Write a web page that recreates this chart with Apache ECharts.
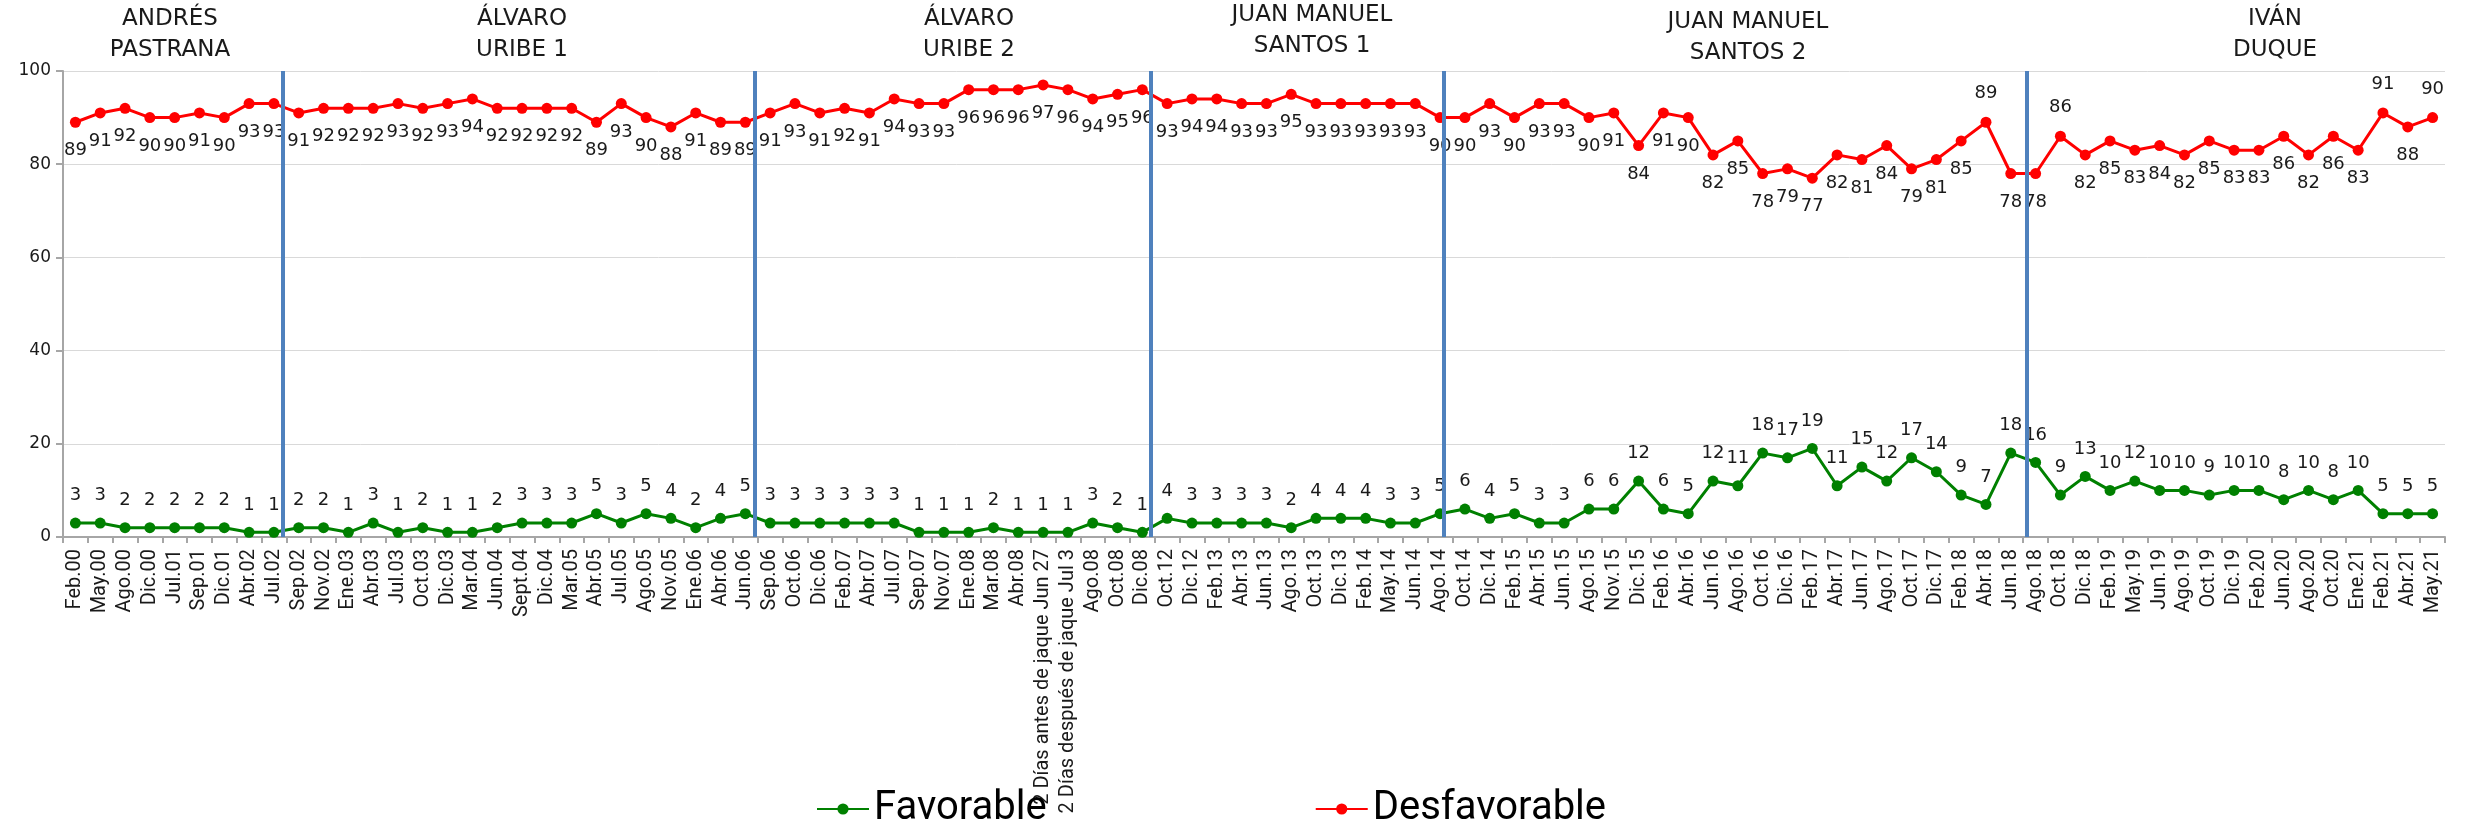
<!DOCTYPE html>
<html><head><meta charset="utf-8">
<script src="https://cdn.jsdelivr.net/npm/echarts@6/dist/echarts.min.js"></script>
<style>html,body{margin:0;padding:0;background:#fff}#c{width:2470px;height:825px}</style>
</head><body><div id="c"></div>
<script>
const categories = [
  'Feb.00','May.00','Ago.00','Dic.00','Jul.01','Sep.01','Dic.01','Abr.02','Jul.02',
  'Sep.02','Nov.02','Ene.03','Abr.03','Jul.03','Oct.03','Dic.03','Mar.04','Jun.04','Sept.04','Dic.04','Mar.05','Abr.05','Jul.05','Ago.05','Nov.05','Ene.06','Abr.06','Jun.06',
  'Sep.06','Oct.06','Dic.06','Feb.07','Abr.07','Jul.07','Sep.07','Nov.07','Ene.08','Mar.08','Abr.08','2 Días antes de jaque Jun 27','2 Días después de jaque Jul 3','Ago.08','Oct.08','Dic.08',
  'Oct.12','Dic.12','Feb.13','Abr.13','Jun.13','Ago.13','Oct.13','Dic.13','Feb.14','May.14','Jun.14','Ago.14',
  'Oct.14','Dic.14','Feb.15','Abr.15','Jun.15','Ago.15','Nov.15','Dic.15','Feb.16','Abr.16','Jun.16','Ago.16','Oct.16','Dic.16','Feb.17','Abr.17','Jun.17','Ago.17','Oct.17','Dic.17','Feb.18','Abr.18','Jun.18',
  'Ago.18','Oct.18','Dic.18','Feb.19','May.19','Jun.19','Ago.19','Oct.19','Dic.19','Feb.20','Jun.20','Ago.20','Oct.20','Ene.21','Feb.21','Abr.21','May.21'
];
const favorable = [
  3,3,2,2,2,2,2,1,1,
  2,2,1,3,1,2,1,1,2,3,3,3,5,3,5,4,2,4,5,
  3,3,3,3,3,3,1,1,1,2,1,1,1,3,2,1,
  4,3,3,3,3,2,4,4,4,3,3,5,
  6,4,5,3,3,6,6,12,6,5,12,11,18,17,19,11,15,12,17,14,9,7,18,
  16,9,13,10,12,10,10,9,10,10,8,10,8,10,5,5,5
];
const desfavorable = [
  89,91,92,90,90,91,90,93,93,
  91,92,92,92,93,92,93,94,92,92,92,92,89,93,90,88,91,89,89,
  91,93,91,92,91,94,93,93,96,96,96,97,96,94,95,96,
  93,94,94,93,93,95,93,93,93,93,93,90,
  90,93,90,93,93,90,91,84,91,90,82,85,78,79,77,82,81,84,79,81,85,89,78,
  78,86,82,85,83,84,82,85,83,83,86,82,86,83,91,88,90
];
const yTicks = { min: 0, max: 100, interval: 20 };
const presidents = ['ANDRÉS\nPASTRANA','ÁLVARO\nURIBE 1','ÁLVARO\nURIBE 2','JUAN MANUEL\nSANTOS 1','JUAN MANUEL\nSANTOS 2','IVÁN\nDUQUE'];
// divider positions, in category units from the left edge of the axis
const dividers = [8.86, 27.87, 43.82, 55.66, 79.15];
const redLabelsAbove = ['Abr.18','Oct.18','Feb.21','May.21'];

// layout only
const titlePos = [[170,4],[522,4],[969,4],[1312,0],[1748,7],[2275,4]];

const chart = echarts.init(document.getElementById('c'));
const labelFont = { fontFamily: 'DejaVu Sans', fontSize: 18, color: '#1a1a1a' };

chart.setOption({
  animation: false,
  backgroundColor: '#fff',
  grid: { left: 63, right: 25, top: 71, bottom: 288 },
  graphic: presidents.map((t, i) => ({
    type: 'text', x: titlePos[i][0], y: titlePos[i][1], silent: true,
    style: { text: t, textAlign: 'center', textVerticalAlign: 'top', fontFamily: 'DejaVu Sans', fontSize: 23, lineHeight: 31, fill: '#1a1a1a' }
  })),
  legend: {
    data: ['Favorable', 'Desfavorable'], left: 811, top: 784,
    itemWidth: 52, itemHeight: 14, itemGap: 268,
    textStyle: { fontFamily: 'Roboto', fontSize: 40, color: '#000' }
  },
  xAxis: [{
    type: 'category', data: categories,
    axisLine: { lineStyle: { color: '#a6a6a6', width: 2 } },
    axisTick: { show: true, interval: 0, length: 6, lineStyle: { color: '#a6a6a6', width: 2 } },
    axisLabel: { interval: 0, rotate: 90, fontFamily: 'Roboto', fontSize: 20, color: '#1a1a1a', margin: 12 }
  }, {
    type: 'value', min: 0, max: categories.length, show: false
  }],
  yAxis: {
    type: 'value', min: yTicks.min, max: yTicks.max, interval: yTicks.interval,
    axisLine: { show: true, lineStyle: { color: '#a6a6a6', width: 2 } },
    axisTick: { show: true, length: 7, lineStyle: { color: '#a6a6a6', width: 2 } },
    splitLine: { lineStyle: { color: '#d9d9d9', width: 1 } },
    axisLabel: { fontFamily: 'DejaVu Sans', fontSize: 17, color: '#1a1a1a', margin: 12 }
  },
  series: [{
    name: 'Favorable', type: 'line', data: favorable, color: '#008000',
    lineStyle: { width: 3 }, symbol: 'circle', symbolSize: 11,
    label: Object.assign({ show: true, position: 'top', distance: 13 }, labelFont)
  }, {
    name: 'Desfavorable', type: 'line', color: '#ff0000',
    data: desfavorable.map((v, i) => redLabelsAbove.includes(categories[i]) ? { value: v, label: { position: 'top' } } : v),
    lineStyle: { width: 3 }, symbol: 'circle', symbolSize: 11,
    label: Object.assign({ show: true, position: 'bottom', distance: 14 }, labelFont)
  }, {
    name: 'dividers', type: 'line', xAxisIndex: 1, yAxisIndex: 0, data: [], z: 5,
    markLine: {
      silent: true, symbol: ['none', 'none'], label: { show: false },
      lineStyle: { color: '#4f81bd', width: 4, type: 'solid' },
      data: dividers.map(x => ({ xAxis: x }))
    }
  }]
});
</script></body></html>
